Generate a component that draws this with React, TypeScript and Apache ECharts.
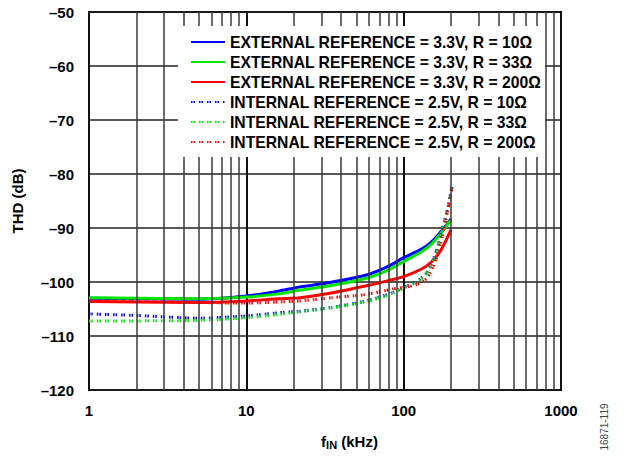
import React, { useEffect, useRef } from "react";
import * as echarts from "echarts";

// Frequencies (kHz) and THD (dB)
const fExt = [1, 2, 5, 10, 16, 22, 34, 58, 81, 100, 130, 150, 170, 185, 200];
const extR10 = [-103.0, -103.1, -103.2, -102.6, -101.7, -100.9, -100.1, -98.7, -97.0, -95.5, -93.9, -92.6, -90.9, -89.6, -88.3];
const extR33 = [-102.9, -103.0, -103.1, -102.8, -102.2, -101.5, -100.7, -99.3, -97.7, -96.2, -94.4, -93.0, -91.2, -89.8, -88.5];
const extR200 = [-103.6, -103.7, -103.8, -103.5, -103.1, -102.9, -102.1, -100.7, -99.7, -99.0, -97.6, -96.3, -94.4, -92.4, -90.3];

const fInt = [1, 2, 5, 10, 16, 22, 35, 58, 85, 100, 120, 140, 160, 176, 190, 203];
const intR10 = [-105.9, -106.2, -106.7, -106.3, -105.7, -105.4, -104.7, -103.5, -102.0, -101.0, -100.0, -98.3, -94.6, -90.2, -86.5, -82.2];
const intR33 = [-107.2, -107.2, -107.1, -106.6, -106.0, -105.5, -104.8, -103.6, -102.1, -101.1, -100.1, -98.4, -94.8, -90.4, -86.6, -82.4];
const intR200 = [-103.5, -103.6, -103.8, -103.9, -103.7, -103.5, -102.9, -102.3, -101.3, -101.0, -100.5, -99.3, -96.0, -91.5, -87.0, -82.6];

const seriesNames = [
  "EXTERNAL REFERENCE = 3.3V, R = 10Ω",
  "EXTERNAL REFERENCE = 3.3V, R = 33Ω",
  "EXTERNAL REFERENCE = 3.3V, R = 200Ω",
  "INTERNAL REFERENCE = 2.5V, R = 10Ω",
  "INTERNAL REFERENCE = 2.5V, R = 33Ω",
  "INTERNAL REFERENCE = 2.5V, R = 200Ω",
];
const seriesColors = ["#0000ff", "#00e600", "#ff0000", "#0000ff", "#00e600", "#ff0000"];

const minorXTicks = [2, 3, 4, 5, 6, 7, 8, 9, 20, 30, 40, 50, 60, 70, 80, 90, 200, 300, 400, 500, 600, 700, 800, 900];
const yTicks = { min: -120, max: -50, interval: 10 };
const xRange = { min: 1, max: 1000 };

const FONT = "'Liberation Sans', Arial, Helvetica, sans-serif";

const zip = (xs: number[], ys: number[]) => xs.map((x, i) => [x, ys[i]]);

export default function App() {
  const ref = useRef<HTMLDivElement>(null);
  useEffect(() => {
    document.body.style.margin = "0";
    if (!ref.current) return;
    const chart = echarts.init(ref.current, undefined, { renderer: "svg" });
    const dataSets = [
      zip(fExt, extR10),
      zip(fExt, extR33),
      zip(fExt, extR200),
      zip(fInt, intR10),
      zip(fInt, intR33),
      zip(fInt, intR200),
    ];
    const dataSeries = dataSets.map((d, i) => ({
      name: seriesNames[i],
      type: "line",
      data: d,
      symbol: "none",
      smooth: 0.25,
      z: 3,
      color: seriesColors[i],
      lineStyle: {
        color: seriesColors[i],
        width: 3,
        type: i < 3 ? "solid" : [1.5, 1, 1.5, 4],
        cap: "butt",
      },
    }));
    chart.setOption({
      animation: false,
      grid: {
        left: 89,
        top: 12,
        width: 472,
        height: 378,
        show: true,
        borderColor: "#000",
        borderWidth: 2,
        backgroundColor: "#fff",
      },
      legend: {
        orient: "vertical",
        left: 178,
        top: 26,
        padding: [8, 4, 7, 12],
        itemGap: 4,
        itemWidth: 34,
        itemHeight: 14,
        backgroundColor: "#fff",
        z: 10,
        data: seriesNames,
        itemStyle: { opacity: 0 },
        textStyle: { fontFamily: FONT, fontWeight: "bold", fontSize: 15.7, color: "#000" },
        selectedMode: false,
      },
      xAxis: {
        type: "log",
        logBase: 10,
        min: xRange.min,
        max: xRange.max,
        axisLine: { show: false },
        axisTick: { show: false },
        axisLabel: {
          margin: 13,
          fontFamily: FONT,
          fontWeight: "bold",
          fontSize: 15,
          color: "#000",
          formatter: (v: number) => String(Math.round(v)),
        },
        splitLine: { show: true, lineStyle: { color: "#111", width: 2 } },
        name: "{f|f}{sub|IN}{u| (kHz)}",
        nameLocation: "middle",
        nameGap: 44,
        nameTextStyle: {
          padding: [0, 0, 0, 49],
          rich: {
            f: { fontFamily: FONT, fontWeight: "bold", fontSize: 15, color: "#000", lineHeight: 16, verticalAlign: "top" },
            sub: { fontFamily: FONT, fontWeight: "bold", fontSize: 11, color: "#000", lineHeight: 11, verticalAlign: "bottom" },
            u: { fontFamily: FONT, fontWeight: "bold", fontSize: 15, color: "#000", lineHeight: 16, verticalAlign: "top" },
          },
        },
      },
      yAxis: {
        type: "value",
        min: yTicks.min,
        max: yTicks.max,
        interval: yTicks.interval,
        axisLine: { show: false },
        axisTick: { show: false },
        axisLabel: {
          margin: 15,
          fontFamily: FONT,
          fontWeight: "bold",
          fontSize: 15,
          color: "#000",
          formatter: (v: number) => String(v).replace("-", "–"),
        },
        splitLine: { show: true, lineStyle: { color: "#222", width: 1.6 } },
        name: "THD (dB)",
        nameLocation: "middle",
        nameGap: 64,
        nameTextStyle: { fontFamily: FONT, fontWeight: "bold", fontSize: 15, color: "#000" },
      },
      graphic: [
        {
          type: "text",
          x: 604,
          y: 427,
          rotation: Math.PI / 2,
          style: {
            text: "16871-119",
            fontFamily: FONT,
            fontSize: 10,
            fill: "#444",
            align: "center",
            verticalAlign: "middle",
          },
        },
      ],
      series: [
        {
          name: "_minorGrid",
          type: "line",
          data: [],
          z: 1,
          silent: true,
          markLine: {
            silent: true,
            symbol: ["none", "none"],
            label: { show: false },
            emphasis: { disabled: true },
            lineStyle: { color: "#3a3a3a", width: 1.5, type: "solid" },
            data: minorXTicks.map((v) => ({ xAxis: v })),
          },
        },
        ...dataSeries,
      ],
    });
    return () => chart.dispose();
  }, []);
  return <div ref={ref} style={{ width: 629, height: 459 }} />;
}
